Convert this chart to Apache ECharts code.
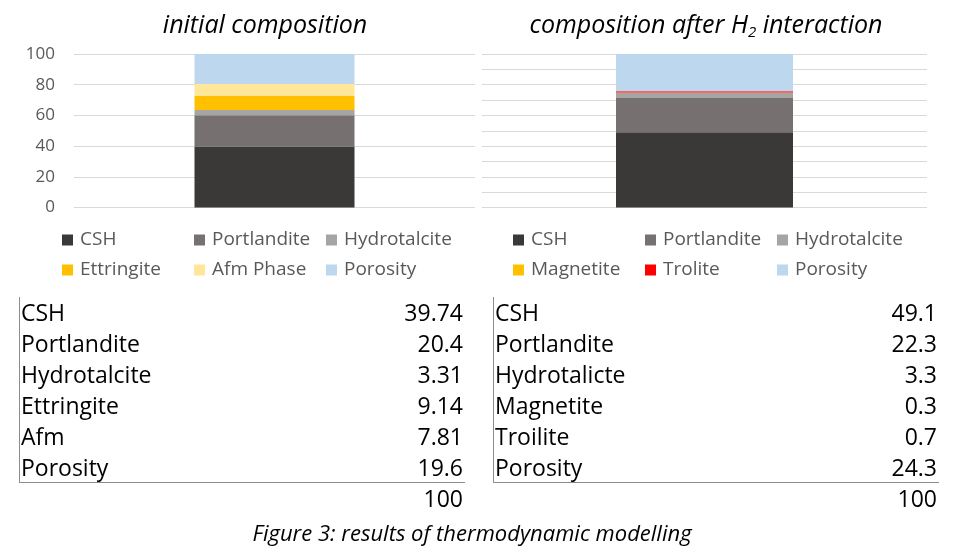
<!DOCTYPE html>
<html>
<head>
<meta charset="utf-8">
<script src="https://cdn.jsdelivr.net/npm/echarts@6/dist/echarts.min.js"></script>
<style>html,body{margin:0;padding:0;background:#fff;}#c{width:966px;height:555px;}</style>
</head>
<body>
<div id="c"></div>
<script>
// ---- data ----
const leftNames = ['CSH', 'Portlandite', 'Hydrotalcite', 'Ettringite', 'Afm Phase', 'Porosity'];
const leftValues = [39.74, 20.4, 3.31, 9.14, 7.81, 19.6];
const leftColors = ['#3b3938', '#767170', '#a5a5a5', '#ffc000', '#ffe699', '#bdd7ee'];
const leftTableLabels = ['CSH', 'Portlandite', 'Hydrotalcite', 'Ettringite', 'Afm', 'Porosity'];

const rightNames = ['CSH', 'Portlandite', 'Hydrotalcite', 'Magnetite', 'Trolite', 'Porosity'];
const rightValues = [49.1, 22.3, 3.3, 0.3, 0.7, 24.3];
const rightColors = ['#3b3938', '#767170', '#a5a5a5', '#ffc000', '#ff0000', '#bdd7ee'];
const rightTableLabels = ['CSH', 'Portlandite', 'Hydrotalicte', 'Magnetite', 'Troilite', 'Porosity'];

const totals = [100, 100];
const leftTicks = [0, 20, 40, 60, 80, 100];

const FONT = '"Open Sans", "Noto Sans", sans-serif';
const chart = echarts.init(document.getElementById('c'));

const series = [];
leftNames.forEach((n, i) => series.push({
  name: n, type: 'bar', stack: 'L', xAxisIndex: 0, yAxisIndex: 0,
  barWidth: 160, data: [leftValues[i]], itemStyle: { color: leftColors[i] }
}));
rightNames.forEach((n, i) => series.push({
  name: n, type: 'bar', stack: 'R', xAxisIndex: 1, yAxisIndex: 1,
  barWidth: 177, data: [rightValues[i]], itemStyle: { color: rightColors[i] }
}));

function legendRow(names, left, top) {
  return {
    data: names.map(n => ({ name: n, icon: 'rect' })),
    left: left, top: top, orient: 'horizontal', padding: 0,
    itemWidth: 11, itemHeight: 11, itemGap: 0, selectedMode: false,
    textStyle: { fontFamily: FONT, fontSize: 19, color: '#595959', width: 114, lineHeight: 20, padding: [0, 0, 0, 2] }
  };
}

function tableGraphics(labels, values, total, xLeft, xRight) {
  const g = [];
  const y0 = 314, dy = 31;
  const st = { fontFamily: FONT, fontSize: 23, fill: '#000', textVerticalAlign: 'middle' };
  labels.forEach((l, i) => {
    g.push({ type: 'text', x: xLeft + 2, y: y0 + i * dy,
      style: Object.assign({ text: l, textAlign: 'left' }, st) });
    g.push({ type: 'text', x: xRight - 1, y: y0 + i * dy,
      style: Object.assign({ text: String(values[i]), textAlign: 'right' }, st) });
  });
  g.push({ type: 'text', x: xRight - 1, y: y0 + labels.length * dy,
    style: Object.assign({ text: String(total), textAlign: 'right' }, st) });
  g.push({ type: 'line', shape: { x1: xLeft + 0.5, y1: 297, x2: xLeft + 0.5, y2: 482 }, style: { stroke: '#8c8c8c', lineWidth: 1 } });
  g.push({ type: 'line', shape: { x1: xLeft, y1: 482.5, x2: xRight + 1, y2: 482.5 }, style: { stroke: '#8c8c8c', lineWidth: 1 } });
  return g;
}

const option = {
  backgroundColor: '#fff',
  animation: false,
  title: [
    { text: 'initial composition', left: 260, top: 8, textAlign: 'center',
      textStyle: { fontFamily: FONT, fontSize: 25, fontStyle: 'italic', fontWeight: 'normal', color: '#000' } },
    { text: 'composition after H{sub|2} interaction', left: 701, top: 7, textAlign: 'center',
      textStyle: { fontFamily: FONT, fontSize: 25, fontStyle: 'italic', fontWeight: 'normal', color: '#000',
        rich: { sub: { fontFamily: FONT, fontSize: 15, fontStyle: 'italic', color: '#000', padding: [13, 0, 0, 0] } } } },
    { text: 'Figure 3: results of thermodynamic modelling', left: 467, top: 519, textAlign: 'center',
      textStyle: { fontFamily: FONT, fontSize: 22, fontStyle: 'italic', fontWeight: 'normal', color: '#000' } }
  ],
  legend: [
    legendRow(leftNames.slice(0, 3), 62, 230),
    legendRow(leftNames.slice(3), 62, 260),
    legendRow(rightNames.slice(0, 3), 513, 230),
    legendRow(rightNames.slice(3), 513, 260)
  ],
  grid: [
    { left: 74, right: 491, top: 54, bottom: 347.5 },
    { left: 482, right: 39, top: 54, bottom: 347.5 }
  ],
  xAxis: [
    { type: 'category', gridIndex: 0, data: ['initial'], axisLine: { show: false }, axisTick: { show: false }, axisLabel: { show: false } },
    { type: 'category', gridIndex: 1, data: ['after H2'], axisLine: { show: false }, axisTick: { show: false }, axisLabel: { show: false } }
  ],
  yAxis: [
    { type: 'value', gridIndex: 0, min: leftTicks[0], max: leftTicks[leftTicks.length - 1], interval: 20,
      axisLine: { show: false }, axisTick: { show: false },
      axisLabel: { fontFamily: FONT, fontSize: 17, color: '#595959', margin: 19 },
      splitLine: { lineStyle: { color: '#d9d9d9', width: 1 } } },
    { type: 'value', gridIndex: 1, min: 0, max: 100, interval: 10,
      axisLine: { show: false }, axisTick: { show: false }, axisLabel: { show: false },
      splitLine: { lineStyle: { color: '#d9d9d9', width: 1 } } }
  ],
  series: series,
  graphic: [].concat(
    tableGraphics(leftTableLabels, leftValues, totals[0], 19, 464),
    tableGraphics(rightTableLabels, rightValues, totals[1], 493, 938)
  )
};
chart.setOption(option);
</script>
</body>
</html>
